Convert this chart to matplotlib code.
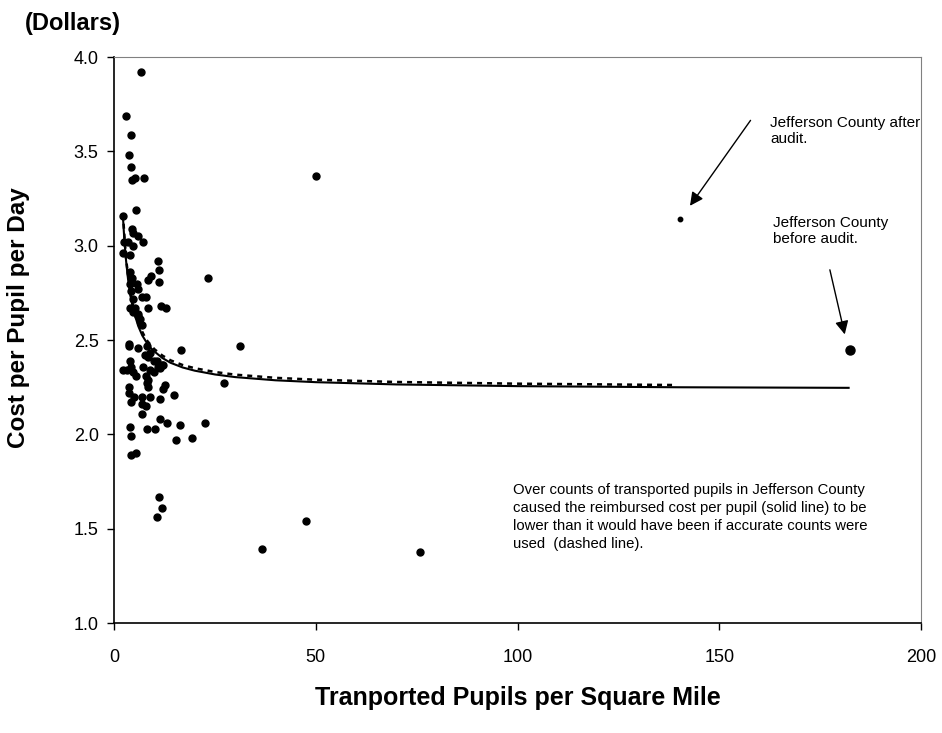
import matplotlib
matplotlib.use("Agg")
import matplotlib.pyplot as plt

plt.rcParams['font.family'] = ['Liberation Sans', 'DejaVu Sans']

# counties: transported pupils per square mile vs cost per pupil per day
pupils_per_sqmi = [
    6.7, 3.0, 4.2, 3.7, 4.2, 4.5, 5.2, 7.5,
    5.5, 2.2, 4.4, 4.8, 6.0, 7.3, 2.6, 3.4, 4.8, 2.3, 4.0,
    10.8, 11.2, 11.2, 8.5, 9.1, 4.0, 4.4, 5.6, 4.0, 6.0, 4.1, 6.9, 7.9, 4.8,
    4.0, 5.2, 8.5, 11.6, 12.9, 6.0, 23.4, 4.8, 6.0, 6.5, 6.9,
    3.6, 3.8, 6.0, 8.1, 16.5, 7.7, 8.5, 8.9, 4.0, 9.8, 10.6, 2.3, 3.3, 4.1,
    4.8, 5.5, 7.3, 8.9, 9.8, 12.1, 11.4, 11.0, 11.8, 7.9, 8.5, 8.3, 3.6, 8.5,
    12.7, 12.2, 3.8, 5.0, 7.0, 8.9, 11.4, 14.9, 4.1, 6.9, 7.9, 6.9, 11.4,
    13.2, 16.4, 22.6, 4.0, 8.3, 10.2, 4.1, 15.4, 19.3, 4.1, 5.4, 11.2, 12.0,
    10.6, 27.3, 31.3, 50.1, 36.6, 47.6, 75.8,
]
cost_per_day = [
    3.92, 3.69, 3.59, 3.48, 3.42, 3.35, 3.36, 3.36,
    3.19, 3.16, 3.09, 3.07, 3.05, 3.02, 3.02, 3.02, 3.00, 2.96, 2.95,
    2.92, 2.87, 2.81, 2.82, 2.84, 2.86, 2.83, 2.80, 2.80, 2.77, 2.76, 2.73, 2.73, 2.72,
    2.67, 2.67, 2.67, 2.68, 2.67, 2.64, 2.83, 2.65, 2.63, 2.61, 2.58,
    2.48, 2.47, 2.46, 2.47, 2.45, 2.42, 2.41, 2.43, 2.39, 2.39, 2.39, 2.34, 2.34, 2.36,
    2.33, 2.31, 2.36, 2.34, 2.33, 2.37, 2.35, 2.36, 2.37, 2.31, 2.29, 2.27, 2.25, 2.25,
    2.26, 2.24, 2.22, 2.20, 2.20, 2.20, 2.19, 2.21, 2.17, 2.16, 2.15, 2.11, 2.08,
    2.06, 2.05, 2.06, 2.04, 2.03, 2.03, 1.99, 1.97, 1.98, 1.89, 1.90, 1.67, 1.61,
    1.56, 2.27, 2.47, 3.37, 1.39, 1.54, 1.375,
]

# Jefferson County
jeff_after = (140.2, 3.14)
jeff_before = (182.4, 2.45)

# reimbursement curves
solid_x = [2.2, 2.6, 3, 3.5, 4, 4.5, 5, 6, 7, 8, 9, 10, 12, 14, 17, 20, 25, 30,
           40, 50, 70, 100, 140, 182]
solid_y = [3.16, 3.02, 2.92, 2.82, 2.745, 2.69, 2.645, 2.575, 2.525, 2.49, 2.46,
           2.44, 2.405, 2.38, 2.355, 2.338, 2.318, 2.304, 2.287, 2.277, 2.265,
           2.256, 2.25, 2.247]
dashed_x = [2.2, 3, 4, 5, 6, 8, 10, 12, 14, 17, 20, 25, 30, 40, 50, 70, 100, 138.6]
dashed_y = [3.17, 2.93, 2.755, 2.655, 2.587, 2.502, 2.452, 2.418, 2.393, 2.368,
            2.351, 2.331, 2.317, 2.300, 2.290, 2.278, 2.269, 2.262]

fig = plt.figure(figsize=(9.42, 7.33), dpi=100)
ax = fig.add_axes([0.121, 0.150, 0.857, 0.772])

ax.plot(solid_x, solid_y, color='black', lw=1.5)
ax.plot(dashed_x, dashed_y, color='black', lw=1.8, dashes=(2, 2))
ax.plot(pupils_per_sqmi, cost_per_day, 'o', color='black', ms=5, mec='black')
ax.plot(*jeff_after, 'o', color='black', ms=3.2)
ax.plot(*jeff_before, 'o', color='black', ms=6.5)

ax.set_xlim(0, 200)
ax.set_ylim(1.0, 4.0)
ax.set_xticks([0, 50, 100, 150, 200])
ax.set_yticks([1.0, 1.5, 2.0, 2.5, 3.0, 3.5, 4.0])
ax.set_yticklabels(['%.1f' % v for v in ax.get_yticks()])
ax.tick_params(axis='both', labelsize=13, direction='out', length=5, width=1)
ax.tick_params(axis='x', pad=14)
ax.tick_params(axis='y', pad=6)

for side in ['top', 'right']:
    ax.spines[side].set_color('#808080')
for side in ['left', 'bottom']:
    ax.spines[side].set_color('black')
    ax.spines[side].set_linewidth(1.2)

ax.set_ylabel('Cost per Pupil per Day', fontsize=17.5, fontweight='bold')
ax.yaxis.set_label_coords(-0.104, 0.54)
ax.set_xlabel('Tranported Pupils per Square Mile', fontsize=18, fontweight='bold')
ax.xaxis.set_label_coords(0.5, -0.112)
fig.text(0.077, 0.968, '(Dollars)', fontsize=17, fontweight='bold',
         ha='center', va='center')

arrow = dict(arrowstyle='-|>', color='black', lw=1, mutation_scale=20)
ax.annotate('', xy=(142.3, 3.20), xytext=(158.1, 3.677), arrowprops=arrow)
ax.annotate('', xy=(181.2, 2.516), xytext=(177.2, 2.887), arrowprops=arrow)

ax.text(162.5, 3.69, 'Jefferson County after\naudit.', fontsize=11,
        va='top', ha='left', linespacing=1.25)
ax.text(163.3, 3.16, 'Jefferson County\nbefore audit.', fontsize=11,
        va='top', ha='left', linespacing=1.25)
ax.text(98.8, 1.74, 'Over counts of transported pupils in Jefferson County\n'
        'caused the reimbursed cost per pupil (solid line) to be\n'
        'lower than it would have been if accurate counts were\n'
        'used  (dashed line).', fontsize=10.7, va='top', ha='left',
        linespacing=1.35)

fig.savefig('out.png', dpi=100)
